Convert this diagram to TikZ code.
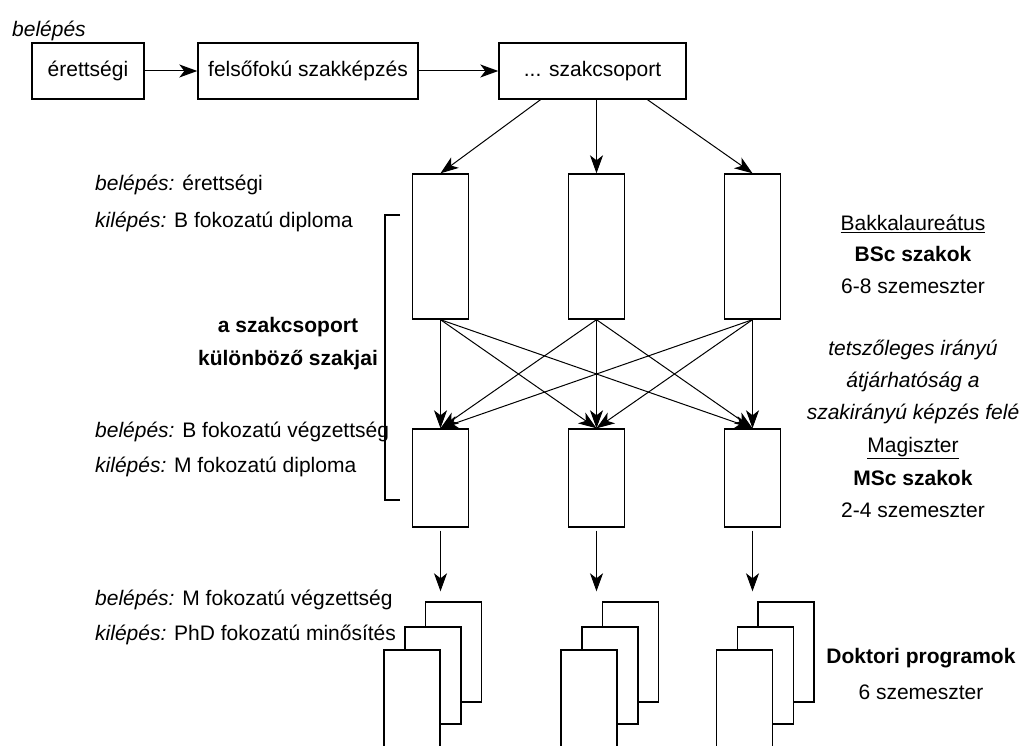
\documentclass[tikz,border=0pt]{standalone}
\usepackage{fontspec}
\setmainfont{Liberation Sans}
\usetikzlibrary{arrows.meta}

\newcommand{\diafont}{\fontsize{21}{25}\selectfont}

\tikzset{
  box/.style={draw, line width=1.4pt, inner sep=0pt, minimum height=56pt},
  colbox/.style={draw, line width=1.4pt, inner sep=0pt, minimum width=56pt},
  stackbox/.style={draw, fill=white, line width=1.4pt, inner sep=0pt, minimum width=56pt},
  arr/.style={line width=1pt, -{Stealth[length=18pt,width=13pt,inset=5pt]}},
  txt/.style={inner sep=0pt, anchor=west},
  ctxt/.style={inner sep=0pt},
  btxt/.style={inner sep=0pt, font=\diafont\bfseries},
  itxt/.style={inner sep=0pt, font=\diafont\itshape},
}

\begin{document}
\begin{tikzpicture}[x=1pt, y=-1pt, font=\diafont]
    \useasboundingbox (0,0) rectangle (1021,746);

    % felvetel
    \node[txt] (be) at (12,31) {\textit{belépés}};
    \node[box, minimum width=112pt] (er) at (88,71) {érettségi};
    \node[box, minimum width=220pt] (fe) at (308,71) {felsőfokú szakképzés};
    \node[box, minimum width=187pt] (sz) at (592.5,71) {... szakcsoport};

    \draw[arr] (er) -- (fe);
    \draw[arr] (fe) -- (sz);

    % szakok
    \node[colbox, minimum height=145pt] (b1) at (440.5,246.5) {};
    \node[colbox, minimum height=145pt] (b2) at (596.5,246.5) {};
    \node[colbox, minimum height=145pt] (b3) at (752.5,246.5) {};

    \node[colbox, minimum height=98pt] (m1) at (440.5,478) {};
    \node[colbox, minimum height=98pt] (m2) at (596.5,478) {};
    \node[colbox, minimum height=98pt] (m3) at (752.5,478) {};

    \draw[arr] ([xshift=-52pt]sz.south) -- (b1.north);
    \draw[arr] ([xshift=4pt]sz.south) -- (b2.north);
    \draw[arr] ([xshift=55pt]sz.south) -- (b3.north);

    \foreach \i in {1,2,3}
        \foreach \j in {1,2,3}
            \draw[arr] (b\i.south) -- (m\j.north);

    % doktori
    \foreach \c/\x in {1/412, 2/589, 3/744.5} {
        \node[stackbox, minimum height=100pt] (da\c) at (\x+41.5,652) {};
        \node[stackbox, minimum height=97pt] (db\c) at (\x+21,675.5) {};
        \node[stackbox, minimum height=100pt] (dc\c) at (\x,700) {};
        \draw[arr, shorten >=10pt] ([yshift=-3pt]m\c.south) -- (m\c.south |- da\c.north);
    }

    % bal oldal
    \node[txt] (l1) at (95,185) {\textit{belépés:} érettségi};
    \node[txt] (l2) at (95,222) {\textit{kilépés:} B fokozatú diploma};
    \node[btxt] (l3) at (288,327) {a szakcsoport};
    \node[btxt] (l4) at (288,360) {különböző szakjai};
    \node[txt] (l5) at (95,432) {\textit{belépés:} B fokozatú végzettség};
    \node[txt] (l6) at (95,467) {\textit{kilépés:} M fokozatú diploma};
    \node[txt] (l7) at (95,600) {\textit{belépés:} M fokozatú végzettség};
    \node[txt] (l8) at (95,635) {\textit{kilépés:} PhD fokozatú minősítés};

    \draw[line width=1.2pt] (400,215) -- (385,215) -- (385,500) -- (400,500);

    % jobb oldal
    \node[ctxt] (r1) at (913,224) {\underline{Bakkalaureátus}};
    \node[btxt] (r2) at (913,254) {BSc szakok};
    \node[ctxt] (r3) at (913,286) {6-8 szemeszter};
    \node[itxt] (r4) at (913,350) {tetszőleges irányú};
    \node[itxt] (r5) at (913,382) {átjárhatóság a};
    \node[itxt] (r6) at (913,414) {szakirányú képzés felé};
    \node[ctxt] (r7) at (913,448) {\underline{Magiszter}};
    \node[btxt] (r8) at (913,478) {MSc szakok};
    \node[ctxt] (r9) at (913,510) {2-4 szemeszter};
    \node[btxt] (r10) at (921,658) {Doktori programok};
    \node[ctxt] (r11) at (921,692) {6 szemeszter};
\end{tikzpicture}
\end{document}
